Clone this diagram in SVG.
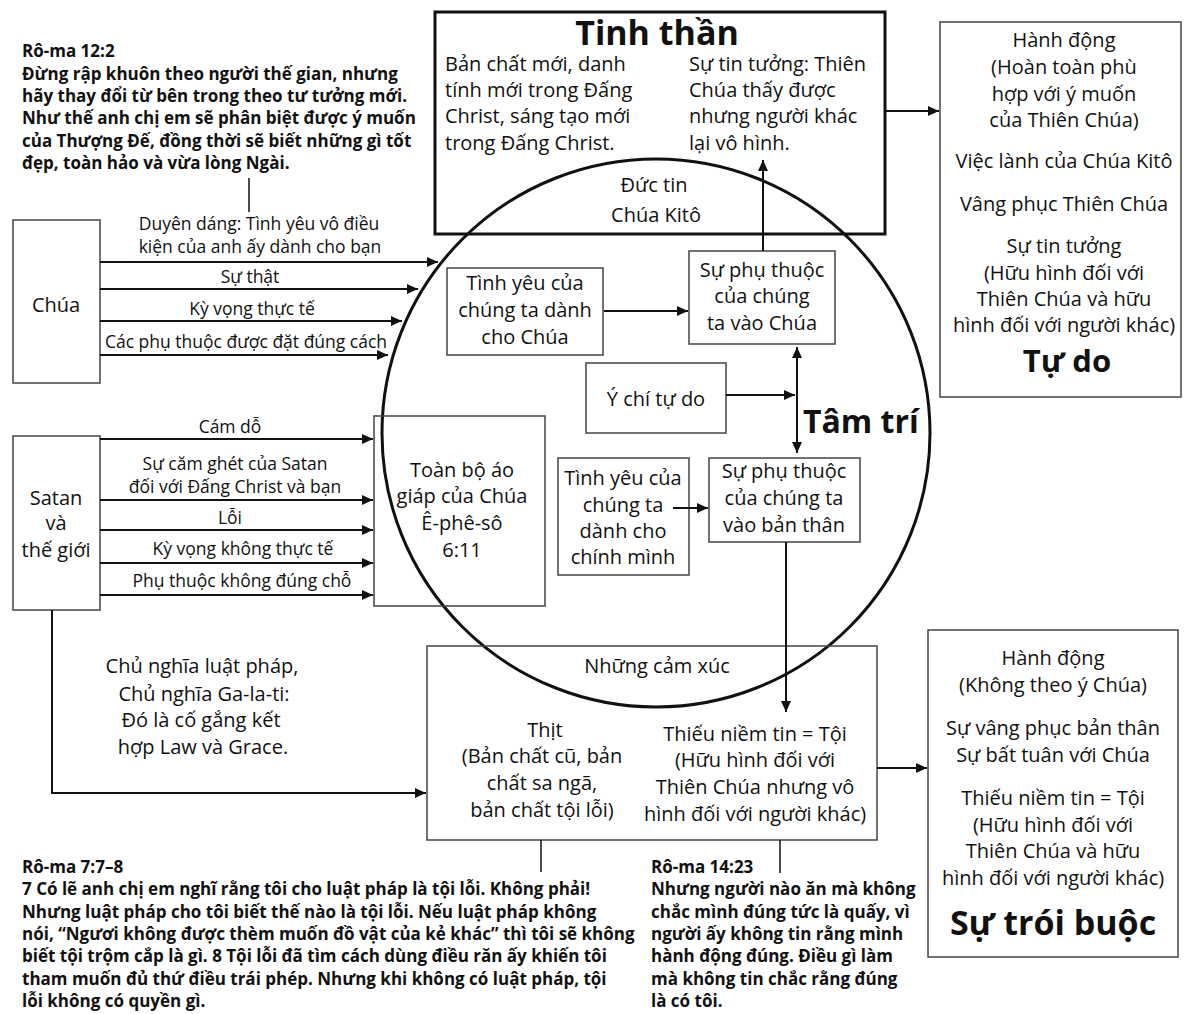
<svg xmlns="http://www.w3.org/2000/svg" width="1185" height="1014" viewBox="0 0 1185 1014">
<style>
text{font-family:"Open Sans","Noto Sans","Liberation Sans",sans-serif;fill:#111}
.t{font-size:20px;text-anchor:middle}
.ts{font-size:20px;text-anchor:start}
.l{font-size:17.5px;text-anchor:middle}
.p{font-size:17px;font-weight:700}
.h{font-weight:700;text-anchor:middle}
.hs{font-weight:700;text-anchor:start}
.box{fill:none;stroke:#444;stroke-width:1.5}
.thick{fill:none;stroke:#111;stroke-width:3}
.c{fill:none;stroke:#111;stroke-width:2}
.c1{fill:none;stroke:#111;stroke-width:1.5}
</style>
<defs>
<marker id="ah" markerUnits="userSpaceOnUse" markerWidth="12" markerHeight="10" refX="11" refY="5" orient="auto-start-reverse">
<path d="M0,0 L11,5 L0,10 z" fill="#111"/>
</marker>
</defs>
<rect width="1185" height="1014" fill="#fff"/>

<g id="romans-12-2">
<text class="p" x="22" y="57">Rô-ma 12:2</text>
<text class="p" x="22" y="80">Đừng rập khuôn theo người thế gian, nhưng</text>
<text class="p" x="22" y="102">hãy thay đổi từ bên trong theo tư tưởng mới.</text>
<text class="p" x="22" y="124">Như thế anh chị em sẽ phân biệt được ý muốn</text>
<text class="p" x="22" y="147">của Thượng Đế, đồng thời sẽ biết những gì tốt</text>
<text class="p" x="22" y="169">đẹp, toàn hảo và vừa lòng Ngài.</text>
</g>

<g id="tinh-than">
<rect class="thick" x="435" y="12" width="450" height="222"/>
<text class="h" x="657" y="45" font-size="34">Tinh thần</text>
<text class="ts" x="445" y="71">Bản chất mới, danh</text>
<text class="ts" x="445" y="97">tính mới trong Đấng</text>
<text class="ts" x="445" y="123">Christ, sáng tạo mới</text>
<text class="ts" x="445" y="150">trong Đấng Christ.</text>
<text class="ts" x="689" y="71">Sự tin tưởng: Thiên</text>
<text class="ts" x="689" y="97">Chúa thấy được</text>
<text class="ts" x="689" y="123">nhưng người khác</text>
<text class="ts" x="689" y="150">lại vô hình.</text>
</g>

<g id="tam-tri">
<circle class="thick" cx="656" cy="433" r="274"/>
<text class="t" x="654" y="192">Đức tin</text>
<text class="t" x="656" y="222">Chúa Kitô</text>
<text class="hs" x="803" y="433" font-size="32">Tâm trí</text>
</g>

<g id="hanh-dong-tu-do">
<rect class="box" x="940" y="22" width="241" height="375"/>
<text class="t" x="1064" y="47">Hành động</text>
<text class="t" x="1064" y="74">(Hoàn toàn phù</text>
<text class="t" x="1064" y="101">hợp với ý muốn</text>
<text class="t" x="1064" y="127">của Thiên Chúa)</text>
<text class="t" x="1064" y="168">Việc lành của Chúa Kitô</text>
<text class="t" x="1064" y="211">Vâng phục Thiên Chúa</text>
<text class="t" x="1064" y="253">Sự tin tưởng</text>
<text class="t" x="1064" y="280">(Hữu hình đối với</text>
<text class="t" x="1064" y="306">Thiên Chúa và hữu</text>
<text class="t" x="1064" y="332">hình đối với người khác)</text>
<text class="h" x="1067" y="372" font-size="31">Tự do</text>
</g>

<g id="chua">
<rect class="box" x="13" y="220" width="87" height="163"/>
<text class="t" x="56" y="312">Chúa</text>
</g>

<g id="satan">
<rect class="box" x="13" y="436" width="87" height="174"/>
<text class="t" x="56" y="505">Satan</text>
<text class="t" x="56" y="530">và</text>
<text class="t" x="56" y="557">thế giới</text>
</g>

<g id="ao-giap">
<rect class="box" x="374" y="416" width="171" height="190"/>
<text class="t" x="462" y="477">Toàn bộ áo</text>
<text class="t" x="462" y="503">giáp của Chúa</text>
<text class="t" x="462" y="530">Ê-phê-sô</text>
<text class="t" x="462" y="557">6:11</text>
</g>

<g id="tinh-yeu-chua">
<rect class="box" x="447" y="268" width="156" height="87"/>
<text class="t" x="525" y="290">Tình yêu của</text>
<text class="t" x="525" y="317">chúng ta dành</text>
<text class="t" x="525" y="344">cho Chúa</text>
</g>

<g id="phu-thuoc-chua">
<rect class="box" x="689" y="251" width="146" height="93"/>
<text class="t" x="762" y="277">Sự phụ thuộc</text>
<text class="t" x="762" y="303">của chúng</text>
<text class="t" x="762" y="330">ta vào Chúa</text>
</g>

<g id="y-chi-tu-do">
<rect class="box" x="586" y="363" width="140" height="70"/>
<text class="t" x="656" y="406">Ý chí tự do</text>
</g>

<g id="tinh-yeu-ban-than">
<rect class="box" x="558" y="458" width="131" height="117"/>
<text class="t" x="623" y="485">Tình yêu của</text>
<text class="t" x="623" y="512">chúng ta</text>
<text class="t" x="623" y="538">dành cho</text>
<text class="t" x="623" y="564">chính mình</text>
</g>

<g id="phu-thuoc-ban-than">
<rect class="box" x="709" y="458" width="151" height="84"/>
<text class="t" x="784" y="478">Sự phụ thuộc</text>
<text class="t" x="784" y="505">của chúng ta</text>
<text class="t" x="784" y="532">vào bản thân</text>
</g>

<g id="galatianism">
<text class="t" x="202" y="673">Chủ nghĩa luật pháp,</text>
<text class="t" x="204" y="701">Chủ nghĩa Ga-la-ti:</text>
<text class="t" x="201" y="727">Đó là cố gắng kết</text>
<text class="t" x="203" y="754">hợp Law và Grace.</text>
</g>

<g id="cam-xuc">
<rect class="box" x="427" y="646" width="450" height="194"/>
<text class="t" x="657" y="673">Những cảm xúc</text>
<text class="t" x="545" y="737">Thịt</text>
<text class="t" x="542" y="763">(Bản chất cũ, bản</text>
<text class="t" x="542" y="790">chất sa ngã,</text>
<text class="t" x="542" y="817">bản chất tội lỗi)</text>
<text class="t" x="755" y="741">Thiếu niềm tin = Tội</text>
<text class="t" x="755" y="767">(Hữu hình đối với</text>
<text class="t" x="755" y="794">Thiên Chúa nhưng vô</text>
<text class="t" x="755" y="821">hình đối với người khác)</text>
</g>

<g id="hanh-dong-troi-buoc">
<rect class="box" x="928" y="630" width="250" height="327"/>
<text class="t" x="1053" y="665">Hành động</text>
<text class="t" x="1053" y="692">(Không theo ý Chúa)</text>
<text class="t" x="1053" y="735">Sự vâng phục bản thân</text>
<text class="t" x="1053" y="762">Sự bất tuân với Chúa</text>
<text class="t" x="1053" y="805">Thiếu niềm tin = Tội</text>
<text class="t" x="1053" y="832">(Hữu hình đối với</text>
<text class="t" x="1053" y="858">Thiên Chúa và hữu</text>
<text class="t" x="1053" y="885">hình đối với người khác)</text>
<text class="h" x="1053" y="935" font-size="34">Sự trói buộc</text>
</g>

<g id="romans-7">
<text class="p" x="22" y="873">Rô-ma 7:7–8</text>
<text class="p" x="22" y="895">7 Có lẽ anh chị em nghĩ rằng tôi cho luật pháp là tội lỗi. Không phải!</text>
<text class="p" x="22" y="918">Nhưng luật pháp cho tôi biết thế nào là tội lỗi. Nếu luật pháp không</text>
<text class="p" x="22" y="940">nói, “Ngươi không được thèm muốn đồ vật của kẻ khác” thì tôi sẽ không</text>
<text class="p" x="22" y="962">biết tội trộm cắp là gì. 8 Tội lỗi đã tìm cách dùng điều răn ấy khiến tôi</text>
<text class="p" x="22" y="985">tham muốn đủ thứ điều trái phép. Nhưng khi không có luật pháp, tội</text>
<text class="p" x="22" y="1007">lỗi không có quyền gì.</text>
</g>

<g id="romans-14">
<text class="p" x="651" y="873">Rô-ma 14:23</text>
<text class="p" x="651" y="895">Nhưng người nào ăn mà không</text>
<text class="p" x="651" y="918">chắc mình đúng tức là quấy, vì</text>
<text class="p" x="651" y="940">người ấy không tin rằng mình</text>
<text class="p" x="651" y="962">hành động đúng. Điều gì làm</text>
<text class="p" x="651" y="985">mà không tin chắc rằng đúng</text>
<text class="p" x="651" y="1007">là có tôi.</text>
</g>

<g id="connectors">
<path class="c" d="M100,262 H438" marker-end="url(#ah)"/>
<path class="c" d="M100,289 H418" marker-end="url(#ah)"/>
<path class="c" d="M100,321 H402" marker-end="url(#ah)"/>
<path class="c" d="M100,355 H388" marker-end="url(#ah)"/>
<text class="l" x="259" y="230">Duyên dáng: Tình yêu vô điều</text>
<text class="l" x="260" y="253">kiện của anh ấy dành cho bạn</text>
<text class="l" x="250" y="283">Sự thật</text>
<text class="l" x="252" y="315">Kỳ vọng thực tế</text>
<text class="l" x="246" y="348">Các phụ thuộc được đặt đúng cách</text>

<path class="c" d="M100,439 H373" marker-end="url(#ah)"/>
<path class="c" d="M100,500 H373" marker-end="url(#ah)"/>
<path class="c" d="M100,530 H373" marker-end="url(#ah)"/>
<path class="c" d="M100,563 H373" marker-end="url(#ah)"/>
<path class="c" d="M100,595 H373" marker-end="url(#ah)"/>
<text class="l" x="230" y="433">Cám dỗ</text>
<text class="l" x="235" y="470">Sự căm ghét của Satan</text>
<text class="l" x="235" y="493">đối với Đấng Christ và bạn</text>
<text class="l" x="230" y="524">Lỗi</text>
<text class="l" x="243" y="555">Kỳ vọng không thực tế</text>
<text class="l" x="242" y="587">Phụ thuộc không đúng chỗ</text>

<path class="c" d="M52,610 V793 H426" marker-end="url(#ah)"/>
<path class="c" d="M604,311 H688" marker-end="url(#ah)"/>
<path class="c" d="M763,251 V160" marker-end="url(#ah)"/>
<path class="c" d="M726,395 H795" marker-end="url(#ah)"/>
<path class="c" d="M797,347 V453" marker-start="url(#ah)" marker-end="url(#ah)"/>
<path class="c" d="M673,508 H708" marker-end="url(#ah)"/>
<path class="c" d="M786,542 V712" marker-end="url(#ah)"/>
<path class="c" d="M885,111 H939" marker-end="url(#ah)"/>
<path class="c" d="M877,768 H927" marker-end="url(#ah)"/>
<path class="c1" d="M249,178 V212"/>
<path class="c1" d="M541,840 V872"/>
<path class="c1" d="M780,840 V873"/>
</g>
</svg>
